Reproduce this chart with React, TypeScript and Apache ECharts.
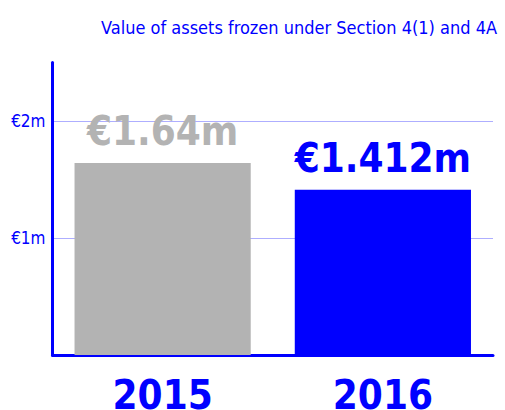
import React, { useEffect, useRef } from "react";
import * as echarts from "echarts";

const categories = ["2015", "2016"];
const values = [1.64, 1.412];
const valueLabels = ["€1.64m", "€1.412m"];
const barColors = ["#b3b3b3", "#0000ff"];
const yTicks = [1, 2];
const titleText = "Value of assets frozen under Section 4(1) and 4A";

const FONT = "'DejaVu Sans Condensed', 'DejaVu Sans', sans-serif";

export default function App() {
  const ref = useRef<HTMLDivElement>(null);
  useEffect(() => {
    if (!ref.current) return;
    const chart = echarts.init(ref.current, null, { renderer: "svg" });
    chart.setOption({
      animation: false,
      title: {
        text: titleText,
        right: 3,
        top: 13,
        textStyle: { color: "#0000ff", fontSize: 18, fontWeight: "normal", fontFamily: FONT },
      },
      grid: {
        left: 52.5,
        right: 12,
        top: 62.5,
        bottom: 55,
        containLabel: false,
        outerBoundsMode: "none",
      },
      xAxis: {
        type: "category",
        data: categories,
        axisLine: { lineStyle: { color: "#0000ff", width: 3 } },
        axisTick: { show: false },
        axisLabel: {
          color: "#0000ff",
          fontSize: 40,
          fontWeight: "bold",
          fontFamily: FONT,
          margin: 20,
        },
      },
      yAxis: {
        type: "value",
        min: 0,
        max: 2.5,
        interval: 1,
        axisLine: { show: true, lineStyle: { color: "#0000ff", width: 3 } },
        axisTick: { show: false },
        axisLabel: {
          color: "#0000ff",
          fontSize: 17,
          fontFamily: FONT,
          margin: 7,
          formatter: (v: number) => (yTicks.includes(v) ? `€${v}m` : ""),
        },
        splitLine: {
          show: true,
          lineStyle: {
            color: ["transparent", "#5c5cff", "#5c5cff", "transparent"],
            type: "dotted",
            width: 1,
          },
        },
      },
      series: [
        {
          type: "bar",
          barWidth: "80%",
          data: values.map((v, i) => ({
            value: v,
            itemStyle: { color: barColors[i] },
            label: {
              show: true,
              position: "top",
              distance: 12,
              formatter: valueLabels[i],
              color: barColors[i],
              fontSize: 40,
              fontWeight: "bold",
              fontFamily: FONT,
            },
          })),
        },
      ],
    });
    return () => chart.dispose();
  }, []);
  return (
    <div
      ref={ref}
      style={{ position: "fixed", left: 0, top: 0, width: 505, height: 410, background: "#fff" }}
    />
  );
}
